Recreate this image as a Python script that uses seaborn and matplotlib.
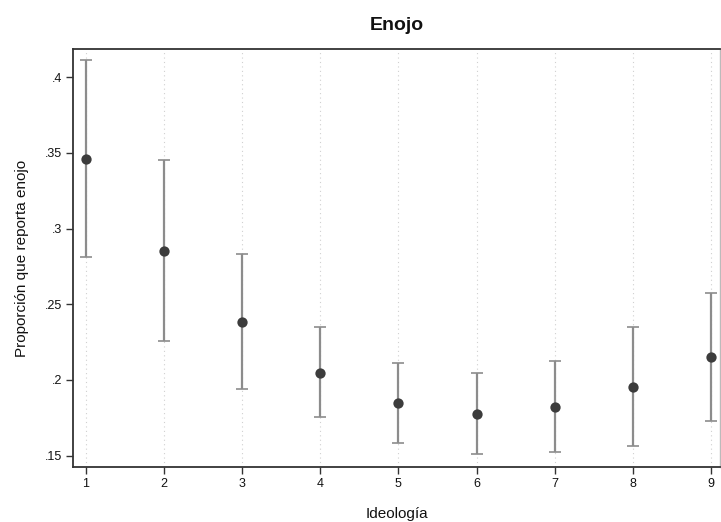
import matplotlib
matplotlib.use("Agg")
import matplotlib.pyplot as plt
import seaborn as sns
import numpy as np
import pandas as pd

ideologia = [1, 2, 3, 4, 5, 6, 7, 8, 9]
proporcion = [0.3458, 0.2854, 0.2385, 0.2044, 0.1848, 0.1777, 0.1824, 0.1956, 0.2154]
ci_low = [0.2813, 0.2260, 0.1940, 0.1754, 0.1586, 0.1513, 0.1522, 0.1566, 0.1731]
ci_high = [0.4115, 0.3453, 0.2830, 0.2348, 0.2114, 0.2046, 0.2127, 0.2352, 0.2573]
y_ticks = [0.15, 0.2, 0.25, 0.3, 0.35, 0.4]
y_ticklabels = [".15", ".2", ".25", ".3", ".35", ".4"]

df = pd.DataFrame({"Ideología": ideologia, "p": proporcion, "lo": ci_low, "hi": ci_high})

sns.set_theme(style="white")
plt.rcParams["font.family"] = ["Liberation Sans", "DejaVu Sans"]
plt.rcParams["text.color"] = "#111111"
plt.rcParams["axes.labelcolor"] = "#111111"
plt.rcParams["xtick.color"] = "#111111"
plt.rcParams["ytick.color"] = "#111111"

fig = plt.figure(figsize=(7.21, 5.22), dpi=100)
ax = fig.add_axes([73/721, 1 - 467/522, (720 - 73)/721, (467 - 49)/522])

# vertical dotted gridlines
for xv in ideologia:
    ax.axvline(xv, color="#d0d0d0", lw=0.8, ls=(0, (1, 3)), zorder=0)

yerr = np.array([df["p"] - df["lo"], df["hi"] - df["p"]])
ax.errorbar(df["Ideología"], df["p"], yerr=yerr, fmt="none", ecolor="#8c8c8c",
            elinewidth=1.6, capsize=4, capthick=1.2, zorder=2)
sns.scatterplot(data=df, x="Ideología", y="p", ax=ax, color="#3c3c3c", s=55,
                edgecolor="#3c3c3c", linewidth=0, zorder=3)

ax.set_xlim(0.837, 9.115)
ax.set_ylim(0.1425, 0.4187)
ax.set_xticks(ideologia)
ax.set_xticklabels([str(i) for i in ideologia], fontsize=9)
ax.set_yticks(y_ticks)
ax.set_yticklabels(y_ticklabels, fontsize=9)
ax.tick_params(axis="both", direction="out", length=5, width=1, color="#333333",
               labelcolor="#111111", left=True, bottom=True, pad=3)

for side in ["left", "bottom", "top"]:
    ax.spines[side].set_color("#333333")
    ax.spines[side].set_linewidth(1.3)
ax.spines["right"].set_color("#bbbbbb")
ax.spines["right"].set_linewidth(1.0)

ax.set_xlabel("Ideología", fontsize=11, labelpad=12, color="#111111")
ax.set_ylabel("Proporción que reporta enojo", fontsize=11, labelpad=11, color="#111111")
ax.set_title("Enojo", fontsize=14, fontweight="bold", pad=14, color="#111111")

fig.savefig("out.png", dpi=100)
